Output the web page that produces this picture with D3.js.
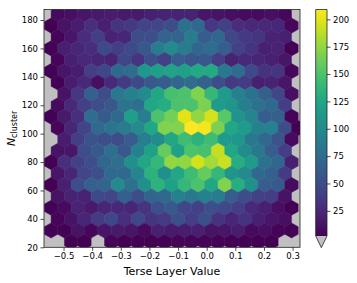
<!DOCTYPE html>
<html>
<head>
<meta charset="utf-8">
<script src="https://cdn.jsdelivr.net/npm/d3@7"></script>
<style>
body { margin: 0; background: #fff; }
text { font-family: "DejaVu Sans", sans-serif; fill: #000; }
</style>
</head>
<body>
<svg width="357" height="283"></svg>
<script>
var xTicks = [-0.5, -0.4, -0.3, -0.2, -0.1, 0.0, 0.1, 0.2, 0.3];
var yTicks = [20, 40, 60, 80, 100, 120, 140, 160, 180];
var colorTicks = [25, 50, 75, 100, 125, 150, 175, 200];

// hexbin lattice, in data units
var xFirst = -0.5669;
var xStep = 0.04666;
var yFirst = 184.1;
var yStep = 8.014;

// counts per hex row, top row first. even rows hold 20 hexes, odd rows 19 (shifted half a step). 0 = empty
var counts = [
 [0, 8, 10, 14, 16, 18, 16, 16, 20, 22, 22, 22, 14, 12, 10, 8, 8, 10, 6, 0],
 [2, 12, 18, 30, 20, 34, 36, 44, 45, 50, 78, 72, 35, 42, 28, 26, 26, 24, 6],
 [0, 5, 14, 28, 40, 22, 24, 50, 52, 68, 68, 88, 62, 70, 46, 36, 34, 22, 20, 0],
 [3, 20, 24, 28, 48, 40, 48, 58, 88, 100, 88, 70, 75, 62, 42, 34, 20, 22, 2],
 [0, 5, 20, 26, 24, 22, 46, 34, 52, 42, 62, 56, 58, 40, 22, 26, 24, 20, 14, 0],
 [3, 14, 18, 40, 46, 72, 74, 112, 118, 122, 120, 128, 128, 85, 75, 48, 32, 34, 6],
 [0, 3, 18, 26, 10, 26, 38, 48, 58, 62, 70, 74, 66, 50, 36, 38, 20, 22, 14, 0],
 [0, 12, 35, 65, 50, 85, 92, 100, 125, 148, 150, 170, 140, 115, 92, 80, 65, 45, 10],
 [0, 8, 26, 42, 50, 58, 82, 78, 125, 130, 150, 150, 168, 115, 110, 90, 80, 72, 40, 0],
 [3, 16, 30, 74, 60, 72, 118, 90, 150, 165, 200, 175, 195, 155, 108, 95, 62, 65, 4],
 [0, 6, 24, 44, 72, 82, 88, 100, 125, 170, 170, 209, 205, 168, 125, 115, 92, 92, 50, 2],
 [0, 18, 40, 55, 52, 50, 62, 90, 102, 125, 145, 135, 145, 115, 112, 85, 72, 55, 8],
 [0, 12, 14, 50, 60, 76, 58, 92, 120, 160, 120, 150, 148, 190, 125, 102, 85, 62, 40, 0],
 [2, 30, 42, 52, 70, 78, 105, 125, 140, 175, 175, 195, 180, 192, 130, 115, 80, 70, 20],
 [0, 14, 24, 45, 52, 72, 72, 95, 135, 105, 125, 145, 160, 140, 110, 100, 72, 65, 38, 0],
 [2, 20, 50, 65, 68, 100, 80, 105, 135, 120, 140, 150, 125, 170, 130, 105, 62, 60, 8],
 [0, 12, 22, 22, 48, 45, 64, 50, 68, 72, 92, 85, 92, 88, 62, 50, 42, 40, 12, 0],
 [3, 8, 22, 16, 24, 26, 24, 34, 52, 60, 45, 42, 52, 48, 40, 26, 20, 10, 2],
 [0, 5, 12, 24, 38, 46, 30, 46, 34, 38, 52, 40, 52, 32, 24, 32, 20, 14, 10, 0],
 [3, 3, 12, 6, 14, 16, 14, 8, 20, 16, 18, 20, 12, 14, 18, 8, 10, 4, 3],
 [0, 0, 2, 2, 0, 4, 2, 3, 2, 3, 4, 4, 4, 3, 2, 3, 2, 2, 0, 0]
];

var svg = d3.select("svg");
var plotLeft = 44, plotRight = 300, plotTop = 9.5, plotBottom = 247.3;
var cbLeft = 315.7, cbRight = 327, cbTop = 9.5, cbBottom = 236, cbTip = 247.7;

var x = d3.scaleLinear().domain([-0.5683, 0.3259]).range([plotLeft, plotRight]);
var y = d3.scaleLinear().domain([20, 187.4]).range([plotBottom, plotTop]);
var color = d3.scaleSequential(d3.interpolateViridis).domain([2, 209]);
var cy = d3.scaleLinear().domain([2, 209]).range([cbBottom, cbTop]);

var defs = svg.append("defs");
defs.append("clipPath").attr("id", "plot")
 .append("rect")
 .attr("x", plotLeft).attr("y", plotTop)
 .attr("width", plotRight - plotLeft).attr("height", plotBottom - plotTop);

// empty hexes just show the axes background
svg.append("rect")
 .attr("x", plotLeft).attr("y", plotTop)
 .attr("width", plotRight - plotLeft).attr("height", plotBottom - plotTop)
 .attr("fill", "#c0c0c0");

var hexes = [];
counts.forEach(function(row, k) {
 row.forEach(function(v, i) {
  if (v > 0) {
   hexes.push({
    cx: xFirst + (i + (k % 2) / 2) * xStep,
    cy: yFirst - k * yStep,
    value: v
   });
  }
 });
});

// hexagon in lattice steps, rows overlap like matplotlib hexbin
var hexShape = [[.5, -1 / 3], [.5, 1 / 3], [0, 2 / 3], [-.5, 1 / 3], [-.5, -1 / 3], [0, -2 / 3]];
var hexLine = d3.line().curve(d3.curveLinearClosed);

svg.append("g")
 .attr("clip-path", "url(#plot)")
 .selectAll("path")
 .data(hexes)
 .enter().append("path")
 .attr("d", function(d) {
  return hexLine(hexShape.map(function(p) {
   return [x(d.cx + p[0] * xStep), y(d.cy + p[1] * yStep)];
  }));
 })
 .attr("fill", function(d) { return color(d.value); })
 .attr("stroke", function(d) { return color(d.value); })
 .attr("stroke-width", 0.4);

// axes
var gx = svg.append("g")
 .attr("transform", "translate(0," + plotBottom + ")")
 .call(d3.axisBottom(x).tickValues(xTicks).tickFormat(d3.format(".1f")).tickSize(3.5).tickPadding(2.5));
var gy = svg.append("g")
 .attr("transform", "translate(" + plotLeft + ",0)")
 .call(d3.axisLeft(y).tickValues(yTicks).tickSize(3.5).tickPadding(2.5));
[gx, gy].forEach(function(g) {
 g.attr("font-size", 8.5).attr("font-family", null);
 g.select(".domain").remove();
 g.selectAll("line").attr("stroke", "#000").attr("stroke-width", 0.7);
});

svg.append("rect")
 .attr("x", plotLeft).attr("y", plotTop)
 .attr("width", plotRight - plotLeft).attr("height", plotBottom - plotTop)
 .attr("fill", "none")
 .attr("stroke", "#222")
 .attr("stroke-width", 0.8);

svg.append("text")
 .attr("x", (plotLeft + plotRight) / 2)
 .attr("y", 274.5)
 .attr("text-anchor", "middle")
 .attr("font-size", 11)
 .text("Terse Layer Value");

var yLabel = svg.append("text")
 .attr("transform", "translate(14.5," + ((plotTop + plotBottom) / 2) + ") rotate(-90)")
 .attr("text-anchor", "middle")
 .attr("font-size", 11);
yLabel.append("tspan").attr("font-style", "italic").text("N");
yLabel.append("tspan").attr("font-size", 8).attr("dy", 2).text("cluster");

// colorbar
var grad = defs.append("linearGradient")
 .attr("id", "cbFill")
 .attr("x1", 0).attr("y1", 1).attr("x2", 0).attr("y2", 0);
grad.selectAll("stop")
 .data(d3.range(0, 1.001, 0.05))
 .enter().append("stop")
 .attr("offset", function(d) { return d; })
 .attr("stop-color", function(d) { return d3.interpolateViridis(d); });

svg.append("rect")
 .attr("x", cbLeft).attr("y", cbTop)
 .attr("width", cbRight - cbLeft).attr("height", cbBottom - cbTop)
 .attr("fill", "url(#cbFill)");

var cbMid = (cbLeft + cbRight) / 2;
svg.append("path")
 .attr("d", "M" + cbLeft + "," + cbBottom + "L" + cbMid + "," + cbTip + "L" + cbRight + "," + cbBottom + "Z")
 .attr("fill", "#c0c0c0");

svg.append("path")
 .attr("d", "M" + cbLeft + "," + cbTop + "L" + cbRight + "," + cbTop + "L" + cbRight + "," + cbBottom +
  "L" + cbMid + "," + cbTip + "L" + cbLeft + "," + cbBottom + "Z")
 .attr("fill", "none")
 .attr("stroke", "#222")
 .attr("stroke-width", 0.8);

var gc = svg.append("g")
 .attr("transform", "translate(" + cbRight + ",0)")
 .call(d3.axisRight(cy).tickValues(colorTicks).tickSize(3.5).tickPadding(2.5));
gc.attr("font-size", 8.5).attr("font-family", null);
gc.select(".domain").remove();
gc.selectAll("line").attr("stroke", "#000").attr("stroke-width", 0.7);
</script>
</body>
</html>
